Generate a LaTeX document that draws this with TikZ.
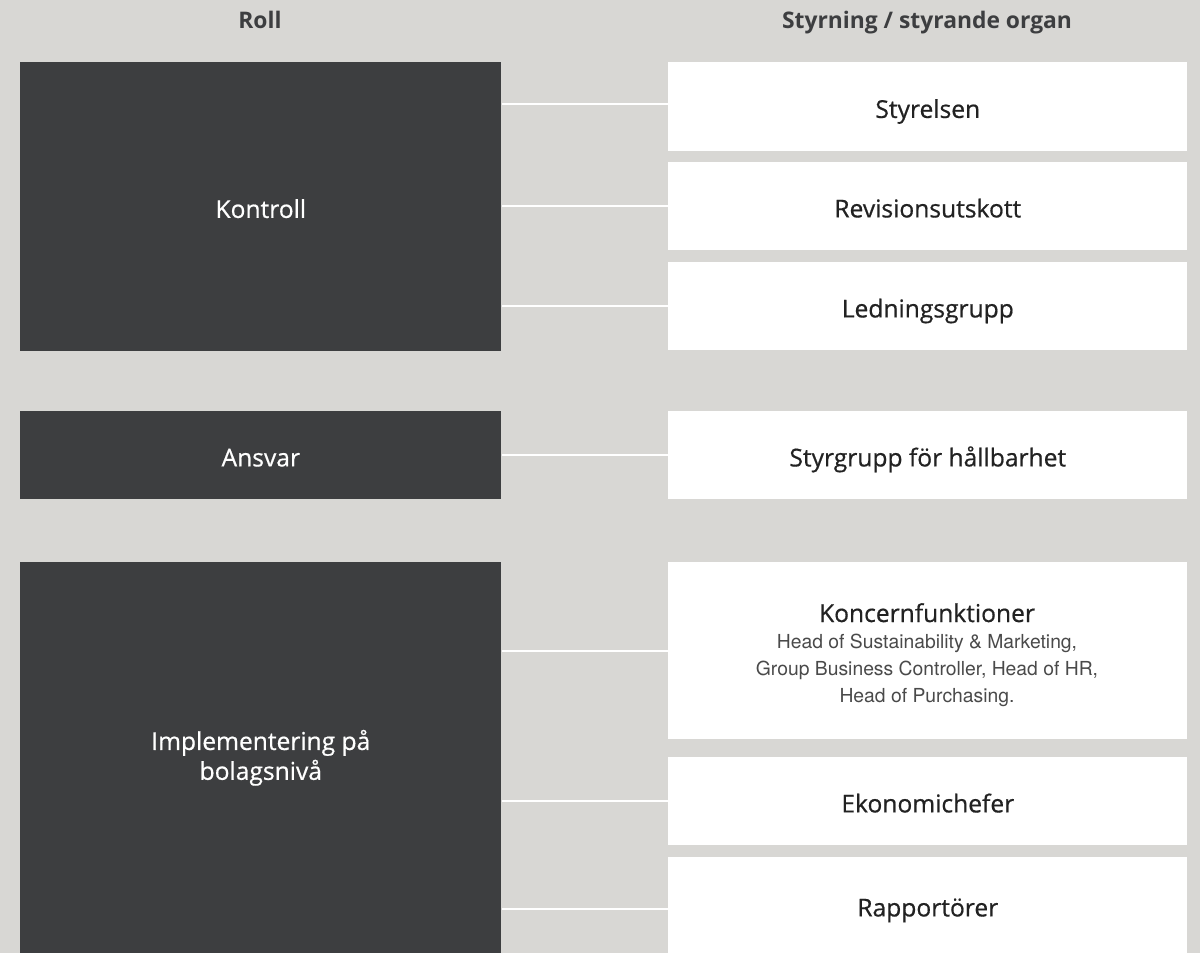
\documentclass[tikz,border=0pt]{standalone}
\usepackage{fontspec}
\setmainfont{Open Sans}
\newfontfamily\mediumfont[FakeBold=0.6]{Open Sans}
\newfontfamily\subfont{TeX Gyre Heros}
\usetikzlibrary{positioning}

\definecolor{bakgrund}{HTML}{D8D7D4}
\definecolor{mork}{HTML}{3D3E40}
\definecolor{text}{HTML}{222222}
\definecolor{undertext}{HTML}{4A4A4A}

\tikzset{
  rubrik/.style={anchor=base, font=\bfseries\fontsize{13}{15}\selectfont, text=mork},
  roll/.style={anchor=north west, fill=mork, text=white, align=center,
    minimum width=9.62cm, font=\mediumfont\fontsize{14}{17}\selectfont},
  organ/.style={anchor=north west, fill=white, text=text, align=center,
    minimum width=10.38cm, font=\mediumfont\fontsize{14}{17}\selectfont},
  enrad/.style={text height=12.6pt, text depth=0pt},
  koppling/.style={draw=white, line width=1.1pt},
}

\begin{document}
\begin{tikzpicture}[x=0.02cm,y=-0.02cm]
  \useasboundingbox[fill=bakgrund] (0,0) rectangle (1200,953);

  % Rubriker
  \node[rubrik] (rollrubrik) at (260,29) {Roll};
  \node[rubrik] (organrubrik) at (927,29) {Styrning / styrande organ};

  % Roller (vänster)
  \node[roll, enrad, minimum height=5.78cm] (kontroll) at (20,62) {Kontroll};
  \node[roll, enrad, minimum height=1.76cm] (ansvar) at (20,411) {Ansvar};
  \node[roll, minimum height=7.82cm] (impl) at (20,562) {Implementering på\\bolagsnivå};

  % Styrande organ (höger)
  \node[organ, enrad, minimum height=1.78cm] (styrelsen) at (668,62) {Styrelsen};
  \node[organ, enrad, minimum height=1.76cm] (revision) at (668,162) {Revisionsutskott};
  \node[organ, enrad, minimum height=1.76cm] (ledning) at (668,262) {Ledningsgrupp};
  \node[organ, enrad, minimum height=1.76cm] (styrgrupp) at (668,411) {Styrgrupp för hållbarhet};
  \node[organ, minimum height=3.54cm] (koncern) at (668,562) {};
  \node[organ, enrad, minimum height=1.76cm] (ekonomi) at (668,757) {Ekonomichefer};
  \node[organ, enrad, minimum height=1.92cm] (rapport) at (668,857) {Rapportörer};

  % Text i koncernrutan
  \node[anchor=base, text=text, font=\mediumfont\fontsize{14}{17}\selectfont,
    inner sep=0pt] (koncerntitel) at (927,622) {Koncernfunktioner};
  \node[below=6.3pt of koncerntitel, align=center, text=undertext, inner sep=0pt,
    font=\subfont\fontsize{11}{15.4}\selectfont] (koncerntext)
    {Head of Sustainability \& Marketing,\\Group Business Controller, Head of HR,\\Head of Purchasing.};

  % Kopplingar
  \draw[koppling] ([yshift=1.4pt]styrelsen.west) -- ([yshift=1.4pt]styrelsen.west -| kontroll.east);
  \draw[koppling] (revision.west) -- (revision.west -| kontroll.east);
  \draw[koppling] (ledning.west) -- (ledning.west -| kontroll.east);
  \draw[koppling] (styrgrupp.west) -- (styrgrupp.west -| ansvar.east);
  \draw[koppling] (koncern.west) -- (koncern.west -| impl.east);
  \draw[koppling] (ekonomi.west) -- (ekonomi.west -| impl.east);
  \draw[koppling] ([yshift=-2.3pt]rapport.west) -- ([yshift=-2.3pt]rapport.west -| impl.east);
\end{tikzpicture}
\end{document}
